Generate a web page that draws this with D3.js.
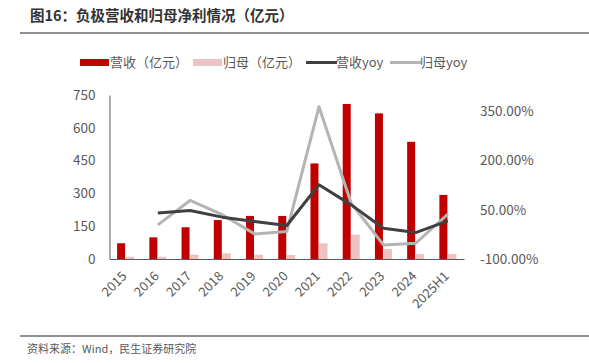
<!DOCTYPE html>
<html>
<head>
<meta charset="utf-8">
<script src="https://d3js.org/d3.v7.min.js"></script>
<style>
body { margin: 0; background: #fff; }
text { font-family: "Noto Sans CJK SC", "Open Sans", sans-serif; }
</style>
</head>
<body>
<script>
// data
const years = ["2015","2016","2017","2018","2019","2020","2021","2022","2023","2024","2025H1"];
const revenue = [72, 99, 145, 178, 197, 197, 437, 709, 666, 536, 293];
const netProfit = [10, 10, 20, 26, 20, 18, 72, 111, 46, 23, 23];
const revenueYoy = [null, 40, 48, 27.6, 14, 2, 126.5, 65, -6, -19.5, 16];
const profitYoy = [null, 4, 78.5, 35, -23.5, -16.5, 364, 70, -57, -52, 37];
const leftTicks = [0, 150, 300, 450, 600, 750];
const rightTicks = [-100, 50, 200, 350];

const W = 589, H = 363;
const svg = d3.select("body").append("svg").attr("width", W).attr("height", H);

// title and rules
svg.append("text").attr("x", 30).attr("y", 21)
  .attr("font-size", 14.5).attr("font-weight", "bold").attr("fill", "#333")
  .text("图16：负极营收和归母净利情况（亿元）");
svg.append("line").attr("x1", 20).attr("x2", W).attr("y1", 33).attr("y2", 33)
  .attr("stroke", "#6b6b6b").attr("stroke-width", 1.5);
svg.append("line").attr("x1", 20).attr("x2", W).attr("y1", 336).attr("y2", 336)
  .attr("stroke", "#6b6b6b").attr("stroke-width", 1.5);
svg.append("text").attr("x", 27).attr("y", 353)
  .attr("font-size", 11).attr("fill", "#595959")
  .text("资料来源：Wind，民生证券研究院");

// scales
const x = d3.scaleBand().domain(years).range([109.5, 464]);
const yL = d3.scaleLinear().domain([0, 750]).range([259, 95]);
const yR = d3.scaleLinear().domain([-100, 400]).range([259, 95]);

// bars
svg.append("g").selectAll("rect").data(revenue).join("rect")
  .attr("x", (d, i) => x(years[i]) + x.bandwidth() / 2 - 8.5)
  .attr("width", 8)
  .attr("y", d => yL(d))
  .attr("height", d => yL(0) - yL(d))
  .attr("fill", "#C00000");
svg.append("g").selectAll("rect").data(netProfit).join("rect")
  .attr("x", (d, i) => x(years[i]) + x.bandwidth() / 2)
  .attr("width", 8.5)
  .attr("y", d => yL(d))
  .attr("height", d => yL(0) - yL(d))
  .attr("fill", "#EBC3C3");

// axes
const axL = svg.append("g").attr("transform", "translate(109.5,0)")
  .call(d3.axisLeft(yL).tickValues(leftTicks).tickSize(0).tickPadding(14));
axL.select(".domain").attr("stroke", "#595959");
axL.selectAll("text").attr("font-size", 13.5).attr("fill", "#595959")
  .attr("font-family", "'Open Sans', sans-serif");

const axR = svg.append("g").attr("transform", "translate(464,0)")
  .call(d3.axisRight(yR).tickValues(rightTicks).tickSize(0).tickPadding(16)
    .tickFormat(d => d.toFixed(2) + "%"));
axR.select(".domain").remove();
axR.selectAll("text").attr("font-size", 13.5).attr("fill", "#595959")
  .attr("font-family", "'Open Sans', sans-serif");

const axB = svg.append("g").attr("transform", "translate(0,259)")
  .call(d3.axisBottom(x).tickSize(0).tickPadding(0));
axB.select(".domain").attr("stroke", "#595959").attr("stroke-width", 1.2);
axB.selectAll("text").attr("font-size", 13).attr("fill", "#595959")
  .attr("font-family", "'Open Sans', sans-serif")
  .attr("text-anchor", "end")
  .attr("x", 0).attr("y", 0).attr("dy", 0)
  .attr("transform", "translate(2,18) rotate(-45)");

// lines
const line = d3.line()
  .defined(d => d != null)
  .x((d, i) => x(years[i]) + x.bandwidth() / 2)
  .y(d => yR(d));
svg.append("path").datum(profitYoy).attr("d", line)
  .attr("fill", "none").attr("stroke", "#B4B4B4").attr("stroke-width", 3)
  .attr("stroke-linejoin", "round");
svg.append("path").datum(revenueYoy).attr("d", line)
  .attr("fill", "none").attr("stroke", "#404040").attr("stroke-width", 3)
  .attr("stroke-linejoin", "round");

// legend
const lg = svg.append("g").attr("font-size", 13).attr("fill", "#595959");
const items = [
  { label: "营收（亿元）", type: "rect", color: "#C00000", x: 80 },
  { label: "归母（亿元）", type: "rect", color: "#EBC3C3", x: 193 },
  { label: "营收yoy", type: "line", color: "#404040", x: 306 },
  { label: "归母yoy", type: "line", color: "#B4B4B4", x: 390 }
];
items.forEach(it => {
  if (it.type === "rect") {
    lg.append("rect").attr("x", it.x).attr("y", 59).attr("width", 29).attr("height", 7).attr("fill", it.color);
  } else {
    lg.append("line").attr("x1", it.x).attr("x2", it.x + 31).attr("y1", 62.5).attr("y2", 62.5)
      .attr("stroke", it.color).attr("stroke-width", 3);
  }
  lg.append("text").attr("x", it.x + 30).attr("y", 67).attr("fill", "#595959").text(it.label);
});
</script>
</body>
</html>
